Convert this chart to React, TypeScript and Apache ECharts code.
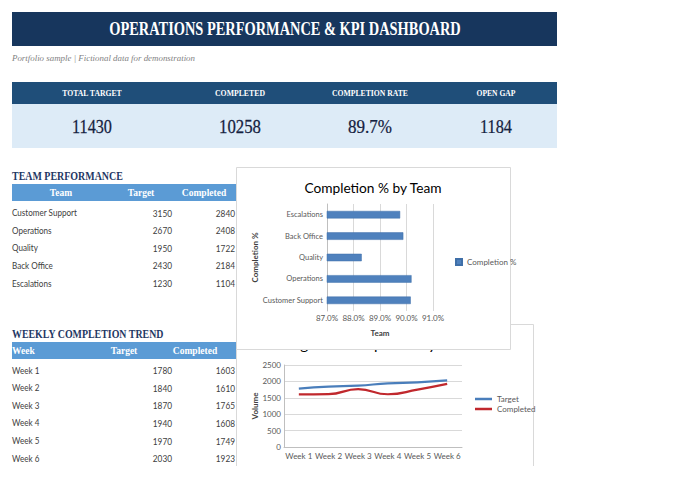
import { useEffect, useRef } from "react";
import * as echarts from "echarts";

// Team performance table
const teams = ["Customer Support", "Operations", "Quality", "Back Office", "Escalations"];
const teamTarget = [3150, 2670, 1950, 2430, 1230];
const teamCompleted = [2840, 2408, 1722, 2184, 1104];
// Completion % per team (same order as teams)
const teamCompletionPct = [90.16, 90.19, 88.31, 89.88, 89.76];

// Weekly completion trend table
const weeks = ["Week 1", "Week 2", "Week 3", "Week 4", "Week 5", "Week 6"];
const weekTarget = [1780, 1840, 1870, 1940, 1970, 2030];
const weekCompleted = [1603, 1610, 1765, 1608, 1749, 1923];

// KPI strip
const kpiLabels = ["TOTAL TARGET", "COMPLETED", "COMPLETION RATE", "OPEN GAP"];
const kpiValues = ["11430", "10258", "89.7%", "1184"];

const SERIF = "'Liberation Serif', 'DejaVu Serif', serif";
const SANS = "Lato, 'Noto Sans', sans-serif";

let measureCtx: CanvasRenderingContext2D | null = null;
function textWidth(text: string, font: string) {
  if (!measureCtx) measureCtx = document.createElement("canvas").getContext("2d");
  if (!measureCtx) return 1;
  measureCtx.font = font;
  return measureCtx.measureText(text).width || 1;
}

type TxtOpts = {
  size: number;
  family?: string;
  weight?: string;
  style?: string;
  fill?: string;
  align?: "left" | "center" | "right";
  width?: number;
  sx?: number;
  stroke?: number;
  z?: number;
};

function txt(text: string, x: number, y: number, o: TxtOpts) {
  const family = o.family ?? SANS;
  const weight = o.weight ?? "normal";
  const fstyle = o.style ?? "normal";
  const font = `${fstyle} ${weight} ${o.size}px ${family}`;
  const scaleX = o.width ? o.width / textWidth(text, font) : o.sx ?? 1;
  const align = o.align ?? "left";
  const fill = o.fill ?? "#404040";
  return {
    type: "text",
    x,
    y,
    scaleX,
    z: o.z ?? 3,
    style: {
      text,
      fontSize: o.size,
      fontFamily: family,
      fontWeight: weight,
      fontStyle: fstyle,
      fill,
      stroke: o.stroke ? fill : null,
      lineWidth: o.stroke ?? 0,
      align,
      textAlign: align,
      verticalAlign: "middle",
      textVerticalAlign: "middle",
    },
  };
}

function rect(x: number, y: number, w: number, h: number, fill: string, z = 1, stroke?: string) {
  return {
    type: "rect",
    z,
    shape: { x, y, width: w, height: h },
    style: { fill, stroke: stroke ?? null, lineWidth: stroke ? 1 : 0 },
  };
}

function buildGraphics() {
  const g: any[] = [];

  // Banner
  g.push(rect(12, 12, 545, 34, "#17365d", 1));
  g.push(
    txt("OPERATIONS PERFORMANCE & KPI DASHBOARD", 285, 29, {
      size: 19, family: SERIF, weight: "bold", fill: "#ffffff", align: "center", width: 352,
    })
  );
  g.push(
    txt("Portfolio sample | Fictional data for demonstration", 12, 58, {
      size: 9, family: SERIF, style: "italic", fill: "#7f7f7f", width: 183,
    })
  );

  // KPI strip
  g.push(rect(12, 82, 545, 22, "#1f4e79", 1));
  g.push(rect(12, 104, 545, 44, "#ddebf7", 1));
  const kpiX = [92, 240, 370, 496];
  const kpiLabelW = [60, 50, 76, 39];
  const kpiValueW = [40, 42, 44, 32];
  kpiLabels.forEach((l, i) => {
    g.push(txt(l, kpiX[i], 93, { size: 8, family: SERIF, weight: "bold", fill: "#ffffff", align: "center", width: kpiLabelW[i] }));
  });
  kpiValues.forEach((v, i) => {
    g.push(txt(v, kpiX[i], 127, { size: 19, family: SERIF, fill: "#14213f", align: "center", width: kpiValueW[i], stroke: 0.25 }));
  });

  // Team performance table
  g.push(txt("TEAM PERFORMANCE", 12, 176, { size: 12, family: SERIF, weight: "bold", fill: "#1f3864", width: 111 }));
  g.push(rect(12, 184, 224, 17, "#5b9bd5", 1));
  g.push(txt("Team", 61, 192.5, { size: 9.5, family: SERIF, weight: "bold", fill: "#ffffff", align: "center" }));
  g.push(txt("Target", 141, 192.5, { size: 9.5, family: SERIF, weight: "bold", fill: "#ffffff", align: "center" }));
  g.push(txt("Completed", 204, 192.5, { size: 9.5, family: SERIF, weight: "bold", fill: "#ffffff", align: "center" }));
  teams.forEach((t, i) => {
    const y = 213 + i * 17.6;
    g.push(txt(t, 12, y, { size: 9, fill: "#404040", sx: 0.9 }));
    g.push(txt(String(teamTarget[i]), 172, y, { size: 9, fill: "#404040", align: "right", sx: 0.92 }));
    g.push(txt(String(teamCompleted[i]), 235, y, { size: 9, fill: "#404040", align: "right", sx: 0.92 }));
  });

  // Weekly trend table
  g.push(txt("WEEKLY COMPLETION TREND", 12, 334, { size: 12, family: SERIF, weight: "bold", fill: "#1f3864", width: 152 }));
  g.push(rect(12, 342, 224, 17, "#5b9bd5", 1));
  g.push(txt("Week", 12, 350.5, { size: 9.5, family: SERIF, weight: "bold", fill: "#ffffff" }));
  g.push(txt("Target", 124, 350.5, { size: 9.5, family: SERIF, weight: "bold", fill: "#ffffff", align: "center" }));
  g.push(txt("Completed", 195, 350.5, { size: 9.5, family: SERIF, weight: "bold", fill: "#ffffff", align: "center" }));
  weeks.forEach((w, i) => {
    const y = 370.5 + i * 17.6;
    g.push(txt(w, 12, y, { size: 9, fill: "#404040", sx: 0.9 }));
    g.push(txt(String(weekTarget[i]), 172, y, { size: 9, fill: "#404040", align: "right", sx: 0.92 }));
    g.push(txt(String(weekCompleted[i]), 235, y, { size: 9, fill: "#404040", align: "right", sx: 0.92 }));
  });

  // Line chart card (sits behind the bar chart card, title mostly hidden)
  g.push(rect(236.5, 324.5, 297, 170, "#ffffff", 1, "#d9d9d9"));
  g.push(txt("Target vs Completed by Week", 379, 345, { size: 13, fill: "#000000", align: "center", sx: 1.17, z: 2 }));

  // Bar chart card
  g.push(rect(236.5, 167.5, 274, 182, "#ffffff", 3, "#d9d9d9"));
  g.push(txt("Completion % by Team", 373, 187, { size: 14, fill: "#000000", align: "center", width: 138, z: 4 }));

  // Page ends below the sheet area
  g.push(rect(0, 466, 680, 20, "#ffffff", 20));

  return g;
}

const axisLabelStyle = { fontSize: 8, color: "#595959", fontFamily: SANS };
const axisNameStyle = { fontSize: 8, color: "#404040", fontFamily: SANS, fontWeight: "bold" as const };

export default function App() {
  const ref = useRef<HTMLDivElement>(null);

  useEffect(() => {
    document.body.style.margin = "0";
    if (!ref.current) return;
    const chart = echarts.init(ref.current, undefined, { renderer: "svg" });
    chart.setOption({
      animation: false,
      backgroundColor: "#ffffff",
      textStyle: { fontFamily: SANS },
      graphic: { elements: buildGraphics() },
      grid: [
        { left: 327, top: 204, width: 106, height: 107 },
        { left: 284, top: 365, width: 178, height: 82 },
      ],
      xAxis: [
        {
          gridIndex: 0,
          type: "value",
          min: 87,
          max: 91,
          interval: 1,
          z: 5,
          axisLine: { show: false },
          axisTick: { show: false },
          splitLine: { show: true, lineStyle: { color: "#d9d9d9", width: 1 } },
          axisLabel: { ...axisLabelStyle, margin: 3, formatter: (v: number) => v.toFixed(1) + "%" },
          name: "Team",
          nameLocation: "middle",
          nameGap: 18,
          nameTextStyle: axisNameStyle,
        },
        {
          gridIndex: 1,
          type: "category",
          data: weeks,
          boundaryGap: true,
          z: 5,
          axisLine: { show: true, lineStyle: { color: "#bfbfbf" } },
          axisTick: { show: false },
          axisLabel: { ...axisLabelStyle, margin: 5, interval: 0 },
          name: "Week",
          nameLocation: "middle",
          nameGap: 20,
          nameTextStyle: axisNameStyle,
        },
      ],
      yAxis: [
        {
          gridIndex: 0,
          type: "category",
          data: teams,
          z: 5,
          axisLine: { show: true, lineStyle: { color: "#bfbfbf" } },
          axisTick: { show: false },
          splitLine: { show: false },
          axisLabel: { ...axisLabelStyle, fontSize: 7.5, margin: 4 },
          name: "Completion %",
          nameLocation: "middle",
          nameGap: 68,
          nameRotate: 90,
          nameTextStyle: axisNameStyle,
        },
        {
          gridIndex: 1,
          type: "value",
          min: 0,
          max: 2500,
          interval: 500,
          z: 5,
          axisLine: { show: true, lineStyle: { color: "#bfbfbf" } },
          axisTick: { show: false },
          splitLine: { show: true, lineStyle: { color: "#d9d9d9" } },
          axisLabel: { ...axisLabelStyle, margin: 3, formatter: (v: number) => String(v) },
          name: "Volume",
          nameLocation: "middle",
          nameGap: 25,
          nameRotate: 90,
          nameTextStyle: axisNameStyle,
        },
      ],
      legend: [
        {
          data: ["Completion %"],
          left: 450,
          top: 253,
          orient: "vertical",
          icon: "rect",
          itemWidth: 6,
          itemHeight: 6,
          textStyle: axisLabelStyle,
          z: 6,
        },
        {
          data: ["Target", "Completed"],
          left: 470,
          top: 390,
          orient: "vertical",
          icon: "rect",
          itemWidth: 17,
          itemHeight: 2.5,
          itemGap: 2,
          textStyle: axisLabelStyle,
          z: 6,
        },
      ],
      series: [
        {
          name: "Completion %",
          type: "bar",
          xAxisIndex: 0,
          yAxisIndex: 0,
          data: teamCompletionPct,
          barWidth: 7.5,
          z: 6,
          itemStyle: { color: "#4f81bd", borderColor: "#3f6fa8", borderWidth: 0.5 },
        },
        {
          name: "Target",
          type: "line",
          xAxisIndex: 1,
          yAxisIndex: 1,
          data: weekTarget,
          smooth: true,
          symbol: "none",
          z: 6,
          lineStyle: { color: "#4a7ebb", width: 2.2 },
          itemStyle: { color: "#4a7ebb" },
        },
        {
          name: "Completed",
          type: "line",
          xAxisIndex: 1,
          yAxisIndex: 1,
          data: weekCompleted,
          smooth: true,
          symbol: "none",
          z: 6,
          lineStyle: { color: "#c0282d", width: 2.2 },
          itemStyle: { color: "#c0282d" },
        },
      ],
    });
    return () => chart.dispose();
  }, []);

  return <div ref={ref} style={{ width: 680, height: 481 }} />;
}
